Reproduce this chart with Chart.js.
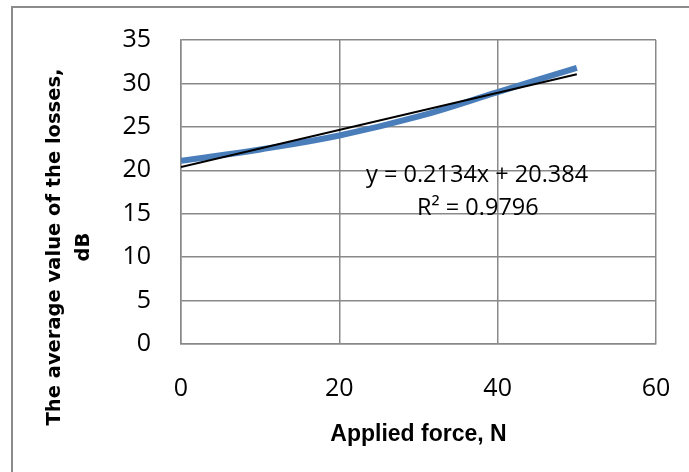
<!DOCTYPE html>
<html>
<head>
<meta charset="utf-8">
<script src="https://cdn.jsdelivr.net/npm/chart.js@4"></script>
<style>
  html, body { margin: 0; padding: 0; background: #fff; overflow: hidden; }
  #wrap { width: 689px; height: 472px; position: relative; overflow: hidden; }
  #frame { position: absolute; left: 11px; top: 6px; width: 720px; height: 520px;
           border: 2px solid #8c8c8c; pointer-events: none; }
  canvas { position: absolute; left: 0; top: 0; }
</style>
</head>
<body>
<div id="wrap"><div id="frame"></div><canvas id="lossChart" width="689" height="472"></canvas></div>
<script>
// data
const forces = [0, 10, 20, 30, 40, 50];
const losses = [21.1, 22.4, 24.0, 26.2, 29.0, 31.8];
const slope = 0.2134;
const intercept = 20.384;
const rSquared = 0.9796;
const xTicks = [0, 20, 40, 60];
const yTicks = [0, 5, 10, 15, 20, 25, 30, 35];

const trendX = [forces[0], forces[forces.length - 1]];
const trendY = trendX.map(x => slope * x + intercept);

const gridColor = '#898989';

// equation label + y title
const extras = {
    id: 'extras',
    afterDraw(chart) {
        const c = chart.ctx;
        const xs = chart.scales.x, ys = chart.scales.y;
        c.save();
        c.fillStyle = '#000';
        c.textAlign = 'center';
        c.textBaseline = 'alphabetic';
        c.font = '23.5px "Open Sans"';
        c.fillText('y = ' + slope + 'x + ' + intercept, xs.getPixelForValue(37.4), ys.getPixelForValue(18.6));
        c.fillText('R\u00b2 = ' + rSquared, xs.getPixelForValue(37.5), ys.getPixelForValue(14.9));

        c.translate(0, 247);
        c.rotate(-Math.PI / 2);
        c.textBaseline = 'middle';
        c.font = 'bold 19.5px "DejaVu Sans"';
        c.fillText('The average value of the losses,', 0, 55);
        c.fillText('dB', 0, 84);
        c.restore();
    }
};

const ctx = document.getElementById('lossChart').getContext('2d');
new Chart(ctx, {
    type: 'scatter',
    data: {
        datasets: [{
            label: 'Losses',
            data: forces.map((f, i) => ({ x: f, y: losses[i] })),
            showLine: true,
            borderColor: '#4a7ebb',
            borderWidth: 6,
            pointRadius: 0,
            tension: 0.4,
            order: 2
        }, {
            label: 'Linear trend',
            data: trendX.map((x, i) => ({ x: x, y: trendY[i] })),
            showLine: true,
            borderColor: '#000',
            borderWidth: 2,
            pointRadius: 0,
            order: 1
        }]
    },
    options: {
        responsive: false,
        animation: false,
        layout: { padding: { top: 40, right: 33, left: 0, bottom: 24 } },
        plugins: {
            legend: { display: false },
            tooltip: { enabled: false }
        },
        scales: {
            x: {
                type: 'linear',
                min: 0,
                max: 60,
                afterBuildTicks: s => { s.ticks = xTicks.map(v => ({ value: v })); },
                grid: { color: gridColor, lineWidth: 1.5, drawTicks: false },
                border: { color: gridColor, width: 1.5 },
                ticks: { padding: 30, color: '#000', font: { family: 'Open Sans', size: 25 } },
                title: {
                    display: true,
                    text: 'Applied force, N',
                    color: '#000',
                    font: { family: 'Liberation Sans', size: 23, weight: 'bold' },
                    padding: { top: 3, bottom: 0 }
                },
                afterFit: s => {
                    s.height = 472 - 344 - 24;
                    s.paddingLeft = 0;
                    s.paddingRight = 0;
                }
            },
            y: {
                min: 0,
                max: 35,
                afterBuildTicks: s => { s.ticks = yTicks.map(v => ({ value: v })); },
                grid: { color: gridColor, lineWidth: 1.5, drawTicks: false },
                border: { color: gridColor, width: 1.5 },
                ticks: { padding: 30, color: '#000', font: { family: 'Open Sans', size: 25 } },
                afterFit: s => {
                    s.width = 181;
                    s.paddingTop = 0;
                    s.paddingBottom = 0;
                }
            }
        }
    },
    plugins: [extras]
});
</script>
</body>
</html>
